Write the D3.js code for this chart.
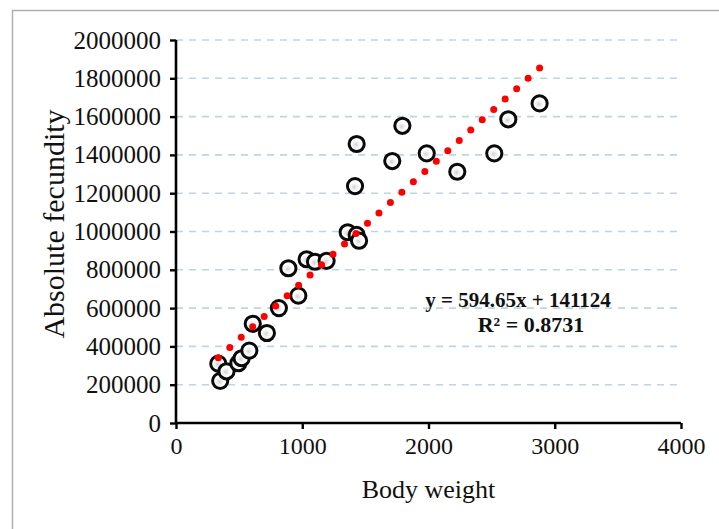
<!DOCTYPE html>
<html><head><meta charset="utf-8">
<script src="https://cdn.jsdelivr.net/npm/d3@7"></script>
<style>
html,body{margin:0;padding:0;background:#fff;}
svg{display:block;}
</style></head>
<body>
<svg id="chart" width="719" height="529"></svg>
<script>
// ---- data ----
const bodyWeight = [335, 350, 400, 494, 520, 581, 608, 720, 815, 890, 969, 1035, 1101, 1193, 1360, 1431, 1450, 1418, 1431, 1713, 1793, 1986, 2228, 2521, 2632, 2880];
const fecundity  = [310000, 220000, 270000, 312000, 338000, 378000, 518000, 470000, 600000, 808000, 665000, 855000, 842000, 847000, 996000, 982000, 952000, 1237000, 1457000, 1368000, 1552000, 1408000, 1312000, 1408000, 1586000, 1669000];
const xTicks = [0, 1000, 2000, 3000, 4000];
const yTicks = [0, 200000, 400000, 600000, 800000, 1000000, 1200000, 1400000, 1600000, 1800000, 2000000];
const trendSlope = 594.65;
const trendIntercept = 141124;
const equationLabel = "y = 594.65x + 141124";
const r2Label = "R² = 0.8731";
const xTitle = "Body weight";
const yTitle = "Absolute fecundity";

const svg = d3.select("#chart");
const FONT = "'Liberation Serif','Times New Roman',serif";

// outer frame
svg.append("rect").attr("x", 12.5).attr("y", 10.5).attr("width", 720).attr("height", 530)
  .attr("fill", "none").attr("stroke", "#b0b0b0").attr("stroke-width", 1.5);

const x = d3.scaleLinear().domain([0, 4000]).range([176, 681]);
const y = d3.scaleLinear().domain([0, 2000000]).range([423, 40]);

// gridlines
svg.append("g").selectAll("line").data(yTicks.filter(d => d > 0)).join("line")
  .attr("x1", x(0)).attr("x2", x(4000))
  .attr("y1", d => y(d)).attr("y2", d => y(d))
  .attr("stroke", "#c0d4e6").attr("stroke-width", 1.6)
  .attr("stroke-dasharray", "7,6");

// axes
const yAxis = svg.append("g").attr("transform", `translate(${x(0)},0)`)
  .call(d3.axisLeft(y).tickValues(yTicks).tickFormat(d3.format("d")).tickSize(6).tickPadding(9));
const xAxis = svg.append("g").attr("transform", `translate(0,${y(0)})`)
  .call(d3.axisBottom(x).tickValues(xTicks).tickFormat(d3.format("d")).tickSize(6).tickPadding(8));
[xAxis, yAxis].forEach(g => {
  g.select(".domain").attr("stroke", "#000").attr("stroke-width", 2.6);
  g.selectAll(".tick line").attr("stroke", "#000").attr("stroke-width", 2.4);
  g.selectAll(".tick text").attr("fill", "#111").attr("font-family", FONT);
});
yAxis.selectAll(".tick text").attr("font-size", 25);
xAxis.selectAll(".tick text").attr("font-size", 24);
xAxis.select(".domain").attr("d", `M${x(0)},0H${x(4000)}`);
yAxis.select(".domain").attr("d", `M0,${y(0)}V${y(2000000)}`);

// gradient fill for markers
const defs = svg.append("defs");
const grad = defs.append("radialGradient").attr("id", "mk").attr("cx", "45%").attr("cy", "55%").attr("r", "50%");
grad.append("stop").attr("offset", "0%").attr("stop-color", "#cfcfcf");
grad.append("stop").attr("offset", "30%").attr("stop-color", "#ececec");
grad.append("stop").attr("offset", "65%").attr("stop-color", "#ffffff");

// points
const pts = bodyWeight.map((w, i) => ({w, f: fecundity[i]}));
svg.append("g").selectAll("circle").data(pts).join("circle")
  .attr("cx", d => x(d.w)).attr("cy", d => y(d.f)).attr("r", 7.6)
  .attr("fill", "url(#mk)").attr("stroke", "#0a0a0a").attr("stroke-width", 3);

// trendline (round dots), spacing fitted so dots sit at both ends
const xMin = d3.min(bodyWeight), xMax = d3.max(bodyWeight);
const line = d3.line().x(d => x(d)).y(d => y(trendSlope * d + trendIntercept));
const trend = svg.append("path").datum([xMin, xMax]).attr("d", line)
  .attr("fill", "none").attr("stroke", "#ff0000").attr("stroke-width", 7)
  .attr("stroke-linecap", "round");
const L = trend.node().getTotalLength();
const gap = L / Math.round(L / 15.6);
trend.attr("stroke-dasharray", `0,${gap}`);

// equation labels
svg.append("text").attr("x", 518).attr("y", 307).attr("text-anchor", "middle")
  .attr("font-family", FONT).attr("font-weight", "bold").attr("font-size", 21).attr("fill", "#111")
  .text(equationLabel);
svg.append("text").attr("x", 531).attr("y", 332).attr("text-anchor", "middle")
  .attr("font-family", FONT).attr("font-weight", "bold").attr("font-size", 22).attr("fill", "#111")
  .text(r2Label);

// axis titles
svg.append("text").attr("x", (x(0) + x(4000)) / 2).attr("y", 498).attr("text-anchor", "middle")
  .attr("font-family", FONT).attr("font-size", 26).attr("fill", "#111").text(xTitle);
svg.append("text").attr("transform", `translate(53,224) rotate(-90)`)
  .attr("text-anchor", "middle").attr("dy", "0.35em")
  .attr("font-family", FONT).attr("font-size", 30).attr("fill", "#111").text(yTitle);
</script>
</body></html>
